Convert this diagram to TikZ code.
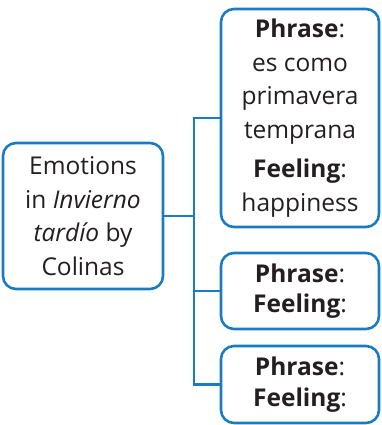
\documentclass[tikz,border=0pt]{standalone}
\usepackage{fontspec}
\setmainfont{Open Sans}
\definecolor{bl}{HTML}{1A7CC0}
\definecolor{tx}{HTML}{231F20}
\begin{document}
\begin{tikzpicture}[x=1pt,y=1pt,
  box/.style={draw=bl,line width=2.6pt,rounded corners=13pt,align=center,text=tx,
    font=\fontsize{24.5}{33.5}\selectfont,inner sep=0pt},
  conn/.style={draw=bl,line width=2.4pt}]
\useasboundingbox (0,0) rectangle (382,-425);
\node[box,minimum width=160,minimum height=146] (root) at (83,-216)
  {Emotions\\in \textit{Invierno}\\\textit{tardío} by\\Colinas};
\node[box,minimum width=158,minimum height=218] (b1) at (300,-118)
  {\textbf{Phrase}:\\es como\\primavera\\temprana\\[6pt]\textbf{Feeling}:\\happiness};
\node[box,minimum width=158,minimum height=76] (b2) at (300,-291)
  {\textbf{Phrase}:\\[-3pt]\textbf{Feeling}:};
\node[box,minimum width=158,minimum height=77] (b3) at (300,-384.5)
  {\textbf{Phrase}:\\[-3pt]\textbf{Feeling}:};
\coordinate (j) at (194,-216);
\draw[conn] (root.east) -- (j);
\draw[conn] (b1.west) -| (j);
\draw[conn] (b3.west) -| (j);
\draw[conn] (b2.west) -- (b2.west -| j);
\end{tikzpicture}
\end{document}
